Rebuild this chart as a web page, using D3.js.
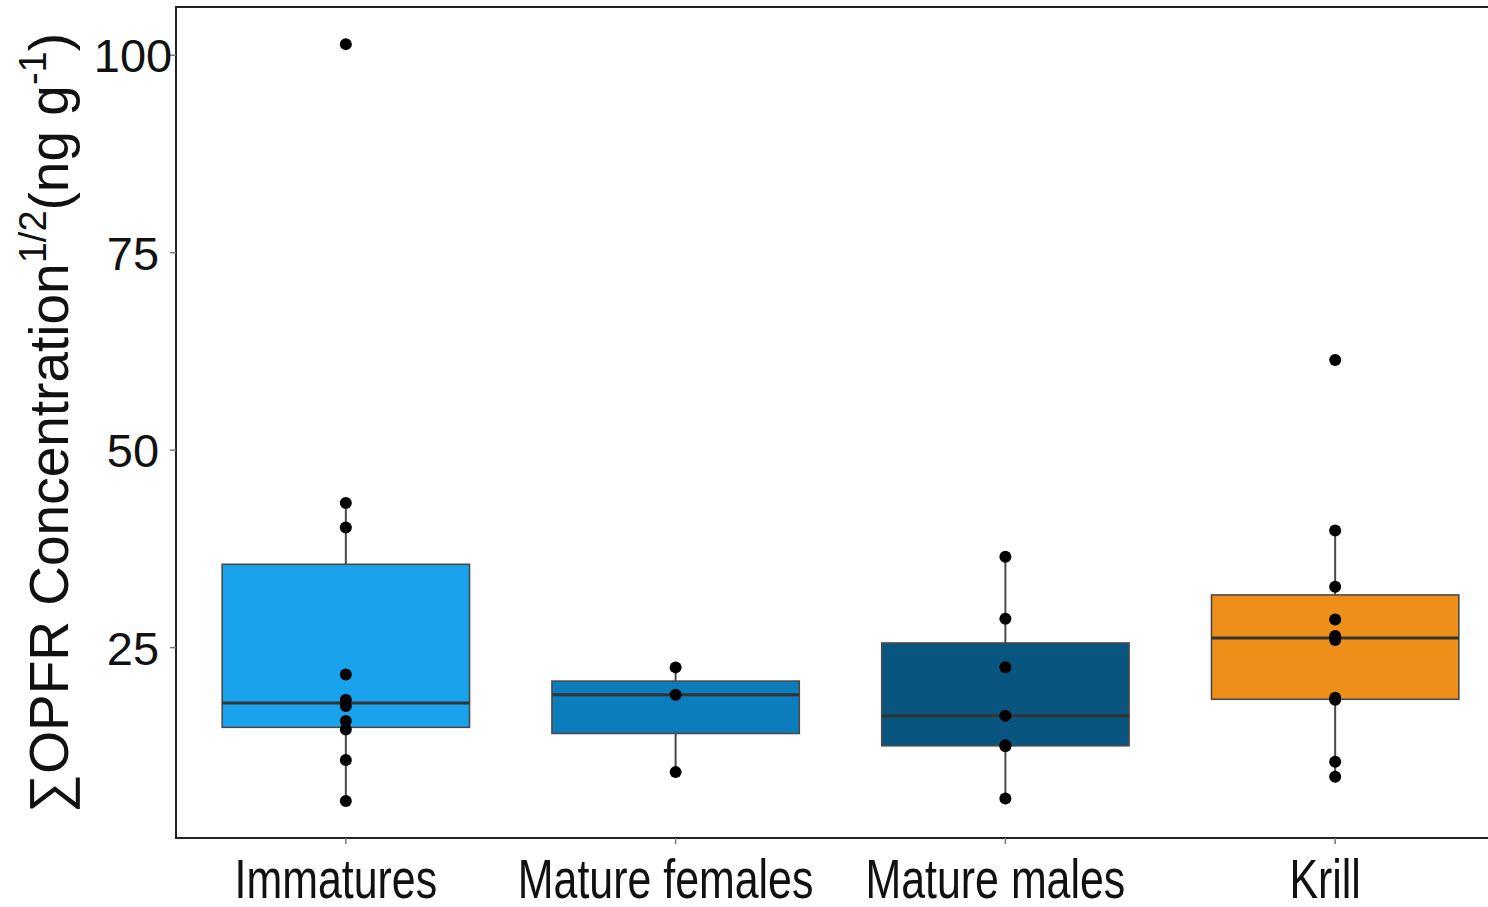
<!DOCTYPE html>
<html>
<head>
<meta charset="utf-8">
<script src="https://cdn.jsdelivr.net/npm/d3@7"></script>
<style>
  html, body { margin: 0; padding: 0; background: #fff; overflow: hidden; }
  svg { display: block; font-family: "Liberation Sans", Arial, sans-serif; }
</style>
</head>
<body>
<svg id="chart" width="1488" height="907"></svg>
<script>
// Groups and their fill colours
const categories = ["Immatures", "Mature females", "Mature males", "Krill"];
const fills = ["#19a3ec", "#0b7dbc", "#08567f", "#ee8f1a"];

// Individual sample values (square-root transformed concentrations)
const immatures     = [101.4, 43.3, 40.2, 21.6, 18.4, 17.6, 15.7, 14.65, 10.76, 5.57];
const matureFemales = [22.5, 19.03, 9.24];
const matureMales   = [36.5, 28.65, 22.53, 16.37, 12.65, 12.5, 5.91];
const krill         = [61.4, 39.83, 32.7, 28.57, 26.46, 25.95, 18.65, 18.4, 10.54, 8.65];

const yTicks = [25, 50, 75, 100];

const groups = [immatures, matureFemales, matureMales, krill];

const svg = d3.select("#chart");

// Panel extents
const panelLeft = 176, panelTop = 7, panelBottom = 838, panelRight = 1505;

const x = d3.scalePoint()
  .domain(categories)
  .range([panelLeft, panelRight])
  .padding(0.515);

const y = d3.scaleLinear()
  .domain([0.9, 106.1])
  .range([panelBottom, panelTop]);

const step = x.step();
const boxW = step * 0.75;

// Box statistics (Tukey style, R type-7 quantiles)
function stats(values) {
  const s = values.slice().sort(d3.ascending);
  const q1 = d3.quantile(s, 0.25);
  const med = d3.quantile(s, 0.5);
  const q3 = d3.quantile(s, 0.75);
  const iqr = q3 - q1;
  const lo = d3.min(s.filter(v => v >= q1 - 1.5 * iqr));
  const hi = d3.max(s.filter(v => v <= q3 + 1.5 * iqr));
  return { q1, med, q3, lo, hi };
}

const boxes = categories.map((c, i) => ({ cat: c, fill: fills[i], values: groups[i], ...stats(groups[i]) }));

const g = svg.append("g");

// Whiskers
g.selectAll("line.whisker-up")
  .data(boxes).join("line")
  .attr("class", "whisker-up")
  .attr("x1", d => x(d.cat)).attr("x2", d => x(d.cat))
  .attr("y1", d => y(d.q3)).attr("y2", d => y(d.hi))
  .attr("stroke", "#4a4a4a").attr("stroke-width", 2);
g.selectAll("line.whisker-down")
  .data(boxes).join("line")
  .attr("class", "whisker-down")
  .attr("x1", d => x(d.cat)).attr("x2", d => x(d.cat))
  .attr("y1", d => y(d.q1)).attr("y2", d => y(d.lo))
  .attr("stroke", "#4a4a4a").attr("stroke-width", 2);

// Boxes
g.selectAll("rect.box")
  .data(boxes).join("rect")
  .attr("class", "box")
  .attr("x", d => x(d.cat) - boxW / 2)
  .attr("width", boxW)
  .attr("y", d => y(d.q3))
  .attr("height", d => y(d.q1) - y(d.q3))
  .attr("fill", d => d.fill)
  .attr("stroke", "#4a4a4a").attr("stroke-width", 1.6);

// Medians
g.selectAll("line.median")
  .data(boxes).join("line")
  .attr("class", "median")
  .attr("x1", d => x(d.cat) - boxW / 2).attr("x2", d => x(d.cat) + boxW / 2)
  .attr("y1", d => y(d.med)).attr("y2", d => y(d.med))
  .attr("stroke", "#333").attr("stroke-width", 3);

// Sample points
const pts = boxes.flatMap(b => b.values.map(v => ({ cat: b.cat, v })));
g.selectAll("circle.pt")
  .data(pts).join("circle")
  .attr("class", "pt")
  .attr("cx", d => x(d.cat))
  .attr("cy", d => y(d.v))
  .attr("r", 6)
  .attr("fill", "#000");

// Panel border
svg.append("rect")
  .attr("x", panelLeft).attr("y", panelTop)
  .attr("width", panelRight - panelLeft).attr("height", panelBottom - panelTop)
  .attr("fill", "none").attr("stroke", "#222").attr("stroke-width", 2);

// Y axis ticks and labels
const yAxis = svg.append("g");
yAxis.selectAll("line").data(yTicks).join("line")
  .attr("x1", panelLeft - 6).attr("x2", panelLeft)
  .attr("y1", d => y(d)).attr("y2", d => y(d))
  .attr("stroke", "#777").attr("stroke-width", 1.5);
yAxis.selectAll("text").data(yTicks).join("text")
  .attr("x", panelLeft - 43)
  .attr("y", d => y(d))
  .attr("dy", "0.36em")
  .attr("text-anchor", "middle")
  .attr("font-size", 47)
  .attr("fill", "#111")
  .text(d => d);

// X axis ticks and labels (condensed)
const xAxis = svg.append("g");
xAxis.selectAll("line").data(categories).join("line")
  .attr("x1", d => x(d)).attr("x2", d => x(d))
  .attr("y1", panelBottom).attr("y2", panelBottom + 6)
  .attr("stroke", "#777").attr("stroke-width", 1.5);
xAxis.selectAll("g.lab").data(categories).join("g")
  .attr("class", "lab")
  .attr("transform", d => `translate(${x(d) - 10},898) scale(0.78,1)`)
  .append("text")
  .attr("text-anchor", "middle")
  .attr("font-size", 55)
  .attr("fill", "#111")
  .text(d => d);

// Y axis title
const title = svg.append("text")
  .attr("transform", "translate(68,813) rotate(-90)")
  .attr("font-size", 55)
  .attr("fill", "#111");
title.append("tspan").text("\u2211OPFR Concentration");
title.append("tspan").attr("dy", -22).attr("font-size", 38).text("1/2");
title.append("tspan").attr("dy", 22).text("(ng g");
title.append("tspan").attr("dy", -22).attr("font-size", 38).text("-1");
title.append("tspan").attr("dy", 22).text(")");
</script>
</body>
</html>
